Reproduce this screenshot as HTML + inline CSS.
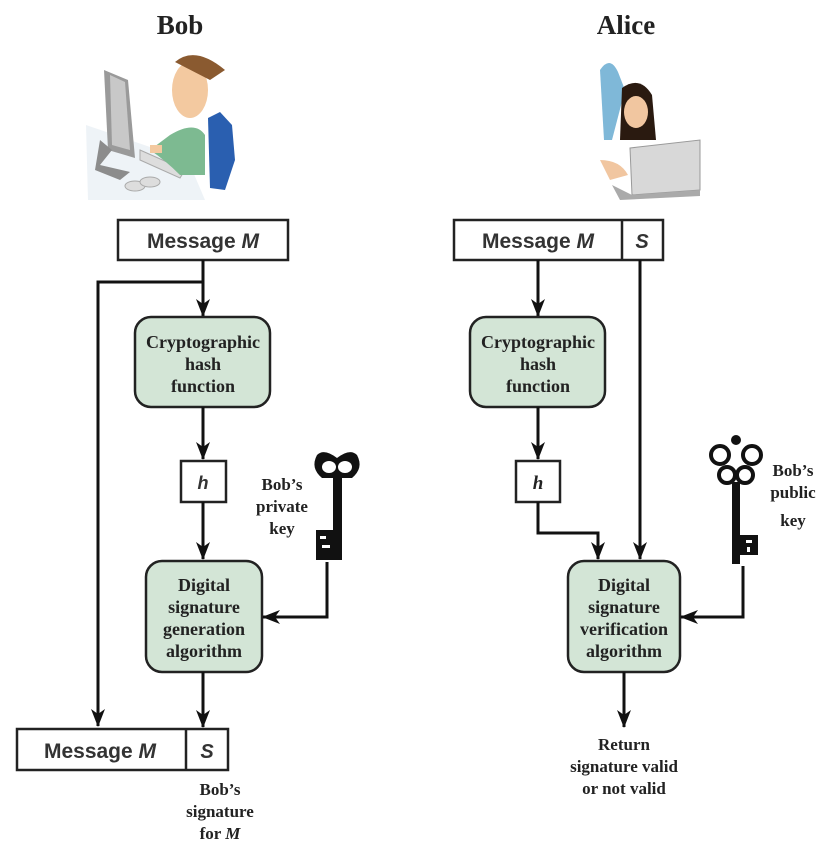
<!DOCTYPE html>
<html><head><meta charset="utf-8"><style>
html,body{margin:0;padding:0;background:#fff;}
svg{display:block;}
.s{font-family:"Liberation Serif",serif;font-weight:bold;fill:#222;}
.a{font-family:"Liberation Sans",sans-serif;font-weight:bold;fill:#333;}
</style></head><body>
<svg width="822" height="848" viewBox="0 0 822 848" xmlns="http://www.w3.org/2000/svg">
<defs>
<marker id="ar" viewBox="0 0 18 14" refX="17" refY="7" markerWidth="6" markerHeight="4.67" orient="auto">
<path d="M0,0 L18,7 L0,14 L5,7 z" fill="#111"/>
</marker>
</defs>
<style>.ln{stroke:#111;stroke-width:3;fill:none}</style>

<text class="s" x="180" y="34" font-size="27" text-anchor="middle">Bob</text>
<text class="s" x="626" y="34" font-size="27" text-anchor="middle">Alice</text>

<!-- Bob illustration -->
<g>
<polygon points="86,125 88,200 205,200 188,160" fill="#eef3f7"/>
<polygon points="104,70 128,80 135,158 108,150" fill="#9a9a9a"/>
<polygon points="110,75 125,82 130,150 112,145" fill="#c8c8c8"/>
<polygon points="100,140 112,150 100,165 130,172 120,180 95,170" fill="#8c8c8c"/>
<polygon points="140,150 185,170 180,178 140,160" fill="#ddd" stroke="#aaa"/>
<ellipse cx="135" cy="186" rx="10" ry="5" fill="#ddd" stroke="#aaa"/>
<ellipse cx="150" cy="182" rx="10" ry="5" fill="#ddd" stroke="#aaa"/>
<path d="M170,135 Q195,120 205,135 L205,175 L180,175 Q165,160 150,150 Z" fill="#7dba91"/>
<ellipse cx="190" cy="90" rx="18" ry="28" fill="#f3c9a0"/>
<path d="M175,62 Q195,45 225,70 L210,80 Z" fill="#8a5a30"/>
<path d="M208,118 L220,112 L232,125 L235,160 L225,190 L210,188 Z" fill="#2a5fb0"/>
<rect x="150" y="145" width="12" height="8" fill="#f3c9a0"/>
</g>

<!-- Alice illustration -->
<g>
<path d="M600,70 Q610,55 618,72 L625,90 L612,140 L604,140 Z" fill="#7fb8d8"/>
<path d="M622,88 Q640,75 652,95 L656,140 L620,140 Z" fill="#2a1a10"/>
<ellipse cx="636" cy="112" rx="12" ry="16" fill="#f1c6a0"/>
<polygon points="630,148 700,140 700,190 632,195" fill="#d8d8d8" stroke="#999"/>
<polygon points="612,185 632,195 700,190 700,196 620,200" fill="#aaa"/>
<path d="M600,160 Q620,160 628,175 L610,180 Z" fill="#f1c6a0"/>
</g>

<!-- Bob flow -->
<rect x="118" y="220" width="170" height="40" fill="#fff" stroke="#222" stroke-width="2.5"/>
<text class="a" x="203" y="248" font-size="21" text-anchor="middle">Message <tspan font-style="italic">M</tspan></text>
<path class="ln" d="M203,260 V316" marker-end="url(#ar)"/>
<path class="ln" d="M203,282 H98 V726" marker-end="url(#ar)"/>
<rect x="135" y="317" width="135" height="90" rx="16" fill="#d3e5d6" stroke="#222" stroke-width="2.5"/>
<text class="s" x="203" y="348" font-size="18" text-anchor="middle">Cryptographic</text>
<text class="s" x="203" y="370" font-size="18" text-anchor="middle">hash</text>
<text class="s" x="203" y="392" font-size="18" text-anchor="middle">function</text>
<path class="ln" d="M203,407 V459" marker-end="url(#ar)"/>
<rect x="181" y="461" width="45" height="41" fill="#fff" stroke="#222" stroke-width="2.5"/>
<text class="a" x="203" y="489" font-size="18" font-style="italic" text-anchor="middle">h</text>
<path class="ln" d="M203,502 V559" marker-end="url(#ar)"/>
<rect x="146" y="561" width="116" height="111" rx="16" fill="#d3e5d6" stroke="#222" stroke-width="2.5"/>
<text class="s" x="204" y="591" font-size="18" text-anchor="middle">Digital</text>
<text class="s" x="204" y="613" font-size="18" text-anchor="middle">signature</text>
<text class="s" x="204" y="635" font-size="18" text-anchor="middle">generation</text>
<text class="s" x="204" y="657" font-size="18" text-anchor="middle">algorithm</text>
<path class="ln" d="M327,562 V617 H263" marker-end="url(#ar)"/>
<path class="ln" d="M203,672 V727" marker-end="url(#ar)"/>
<rect x="17" y="729" width="211" height="41" fill="#fff" stroke="#222" stroke-width="2.5"/>
<line x1="186" y1="729" x2="186" y2="770" stroke="#222" stroke-width="2.5"/>
<text class="a" x="100" y="758" font-size="21" text-anchor="middle">Message <tspan font-style="italic">M</tspan></text>
<text class="a" x="207" y="758" font-size="20" font-style="italic" text-anchor="middle">S</text>
<text class="s" x="220" y="795" font-size="17" text-anchor="middle">Bob’s</text>
<text class="s" x="220" y="817" font-size="17" text-anchor="middle">signature</text>
<text class="s" x="220" y="839" font-size="17" text-anchor="middle">for <tspan font-style="italic">M</tspan></text>
<text class="s" x="282" y="490" font-size="17" text-anchor="middle">Bob’s</text>
<text class="s" x="282" y="512" font-size="17" text-anchor="middle">private</text>
<text class="s" x="282" y="534" font-size="17" text-anchor="middle">key</text>
<!-- private key -->
<g fill="#111">
<path d="M317,455 Q310,468 322,478 L352,478 Q364,468 357,455 Q350,448 337,458 Q324,448 317,455 Z"/>
<ellipse cx="329" cy="467" rx="7" ry="6" fill="#fff"/>
<ellipse cx="345" cy="467" rx="7" ry="6" fill="#fff"/>
<rect x="333" y="478" width="9" height="82"/>
<rect x="316" y="530" width="18" height="30"/>
<rect x="320" y="536" width="6" height="3" fill="#fff"/>
<rect x="322" y="545" width="8" height="3" fill="#fff"/>
</g>

<!-- Alice flow -->
<rect x="454" y="220" width="209" height="40" fill="#fff" stroke="#222" stroke-width="2.5"/>
<line x1="622" y1="220" x2="622" y2="260" stroke="#222" stroke-width="2.5"/>
<text class="a" x="538" y="248" font-size="21" text-anchor="middle">Message <tspan font-style="italic">M</tspan></text>
<text class="a" x="642" y="248" font-size="20" font-style="italic" text-anchor="middle">S</text>
<path class="ln" d="M538,260 V316" marker-end="url(#ar)"/>
<path class="ln" d="M640,260 V559" marker-end="url(#ar)"/>
<rect x="470" y="317" width="135" height="90" rx="16" fill="#d3e5d6" stroke="#222" stroke-width="2.5"/>
<text class="s" x="538" y="348" font-size="18" text-anchor="middle">Cryptographic</text>
<text class="s" x="538" y="370" font-size="18" text-anchor="middle">hash</text>
<text class="s" x="538" y="392" font-size="18" text-anchor="middle">function</text>
<path class="ln" d="M538,407 V459" marker-end="url(#ar)"/>
<rect x="516" y="461" width="44" height="41" fill="#fff" stroke="#222" stroke-width="2.5"/>
<text class="s" x="538" y="489" font-size="19" font-style="italic" text-anchor="middle">h</text>
<path class="ln" d="M538,502 V533 H598 V559" marker-end="url(#ar)"/>
<rect x="568" y="561" width="112" height="111" rx="16" fill="#d3e5d6" stroke="#222" stroke-width="2.5"/>
<text class="s" x="624" y="591" font-size="18" text-anchor="middle">Digital</text>
<text class="s" x="624" y="613" font-size="18" text-anchor="middle">signature</text>
<text class="s" x="624" y="635" font-size="18" text-anchor="middle">verification</text>
<text class="s" x="624" y="657" font-size="18" text-anchor="middle">algorithm</text>
<path class="ln" d="M743,566 V617 H681" marker-end="url(#ar)"/>
<path class="ln" d="M624,672 V727" marker-end="url(#ar)"/>
<text class="s" x="624" y="750" font-size="17" text-anchor="middle">Return</text>
<text class="s" x="624" y="772" font-size="17" text-anchor="middle">signature valid</text>
<text class="s" x="624" y="794" font-size="17" text-anchor="middle">or not valid</text>
<text class="s" x="793" y="476" font-size="17" text-anchor="middle">Bob’s</text>
<text class="s" x="793" y="498" font-size="17" text-anchor="middle">public</text>
<text class="s" x="793" y="526" font-size="17" text-anchor="middle">key</text>
<!-- public key -->
<g fill="#111">
<circle cx="720" cy="455" r="9" fill="none" stroke="#111" stroke-width="4"/>
<circle cx="752" cy="455" r="9" fill="none" stroke="#111" stroke-width="4"/>
<circle cx="727" cy="475" r="8" fill="none" stroke="#111" stroke-width="4"/>
<circle cx="745" cy="475" r="8" fill="none" stroke="#111" stroke-width="4"/>
<circle cx="736" cy="440" r="5"/>
<rect x="732" y="482" width="8" height="82"/>
<rect x="740" y="535" width="18" height="20"/>
<rect x="746" y="540" width="6" height="3" fill="#fff"/>
<rect x="747" y="547" width="3" height="5" fill="#fff"/>
</g>
</svg>
</body></html>
